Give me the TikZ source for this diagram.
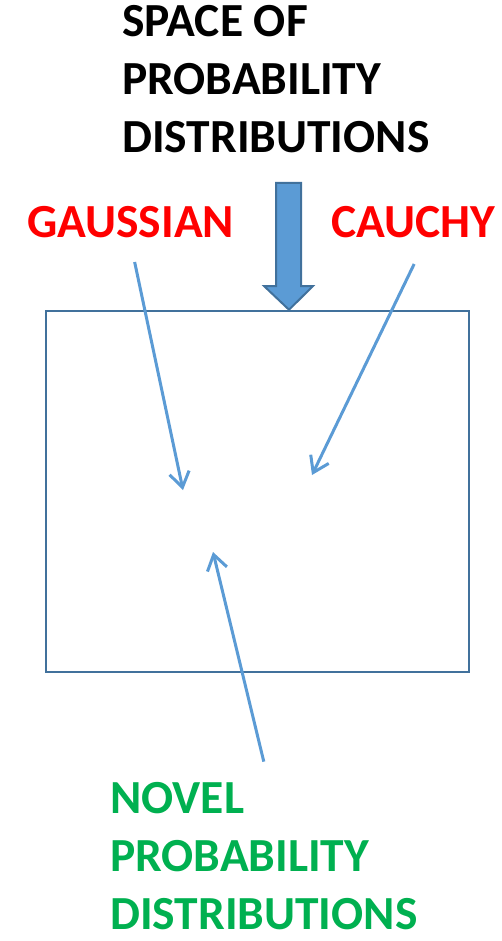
\documentclass[tikz,border=0pt]{standalone}
\usepackage{fontspec}
\setmainfont{Carlito}
\usetikzlibrary{arrows.meta}

\definecolor{boxblue}{HTML}{41719C}
\definecolor{linkblue}{HTML}{5B9BD5}
\definecolor{novelgreen}{HTML}{00B050}

\tikzset{
  bigtext/.style={anchor=base west, align=left, inner sep=0pt,
    font=\fontsize{47.5}{58}\selectfont\bfseries},
  pointer/.style={draw=linkblue, line width=3pt,
    -{Straight Barb[length=15pt,width=20pt]}}
}

\begin{document}
\begin{tikzpicture}[x=1pt,y=-1pt]
		\useasboundingbox (0,0) rectangle (502,941);
		
		% draw heading and labels (base is the last line)
		\node[bigtext] (title) at (122,153) {SPACE OF\\PROBABILITY\\DISTRIBUTIONS};
		\node[bigtext, text=red] (gauss) at (27,237) {GAUSSIAN};
		\node[bigtext, text=red] (cauchy) at (331,237) {CAUCHY};
		\node[bigtext, text=novelgreen] (novel) at (110,929) {NOVEL\\PROBABILITY\\DISTRIBUTIONS};
		
		% draw the space as a box
		\node[draw=boxblue, line width=2.5pt, minimum width=423pt, minimum height=361pt,
		      inner sep=0pt] (space) at (257.5,491.5) {};
		
		% draw block arrow into the box
		\draw[boxblue, line width=2pt, fill=linkblue, line join=miter]
		  (276,183) -- (301,183) -- (301,286) -- (313,286) -- (space.north -| 289,0)
		  -- (264,286) -- (276,286) -- cycle;
		
		% draw end points inside the box
		\coordinate (gtip) at (183,490);
		\coordinate (ctip) at (312,475);
		\coordinate (ntip) at (213,552);
		
		% draw pointers
		\draw[pointer] ([xshift=4pt,yshift=-25pt]gauss.base) -- (gtip);
		\draw[pointer] ([xshift=1pt,yshift=-27pt]cauchy.base) -- (ctip);
		\draw[pointer] ([yshift=20pt]novel.north) -- (ntip);
\end{tikzpicture}
\end{document}
